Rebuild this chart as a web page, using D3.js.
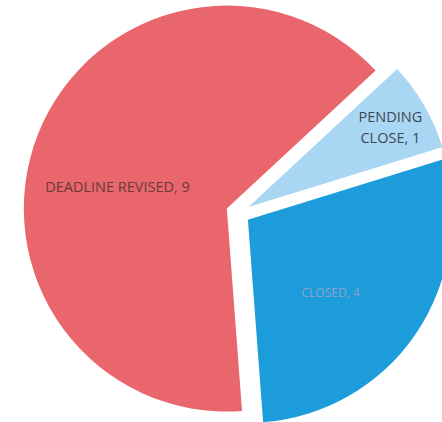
<!DOCTYPE html>
<html><head><meta charset="utf-8">
<script src="https://cdn.jsdelivr.net/npm/d3@7"></script>
<style>html,body{margin:0;padding:0;background:#fff;overflow:hidden}</style>
</head><body>
<svg id="chart" width="442" height="422"></svg>
<script>
const categories = ["DEADLINE REVISED", "PENDING CLOSE", "CLOSED"];
const values = [9, 1, 4];
const colors = ["#E9666C", "#A9D6F2", "#1C9CDB"];
const labelColors = ["#6a3a3c", "#3f4852", "#8ea3c9"];

const W = 442, H = 422;
const cx = 238, cy = 213, R = 203, explode = 12;
const startDeg = 175.7;

const svg = d3.select("#chart");
const pie = d3.pie().sort(null).value(d => d)
  .startAngle(startDeg * Math.PI / 180)
  .endAngle(startDeg * Math.PI / 180 + 2 * Math.PI);
const arcs = pie(values);
const arc = d3.arc().innerRadius(0).outerRadius(R);

const g = svg.append("g").attr("transform", `translate(${cx},${cy})`);
const slice = g.selectAll("g.slice").data(arcs).enter().append("g")
  .attr("class", "slice")
  .attr("transform", d => {
    const m = (d.startAngle + d.endAngle) / 2;
    return `translate(${Math.sin(m) * explode},${-Math.cos(m) * explode})`;
  });
slice.append("path").attr("d", arc).attr("fill", (d, i) => colors[i]);

// label layout
const labelR = [112, 164, 111];
const nudge = [[-5, 19], [0, 3], [-9, 10]];
const fontSizes = [14.5, 14.5, 12];
slice.each(function (d, i) {
  const m = (d.startAngle + d.endAngle) / 2;
  const x = Math.sin(m) * labelR[i] + nudge[i][0];
  const y = -Math.cos(m) * labelR[i] + nudge[i][1];
  const t = d3.select(this).append("text")
    .attr("text-anchor", "middle")
    .attr("font-family", "'Open Sans', sans-serif")
    .attr("font-size", fontSizes[i])
    .attr("fill", labelColors[i]);
  const lines = i === 1 ? ["PENDING", "CLOSE, " + values[i]] : [categories[i] + ", " + values[i]];
  const lh = 21;
  lines.forEach((ln, k) => {
    t.append("tspan").attr("x", x)
      .attr("y", y + (k - (lines.length - 1) / 2) * lh + 5)
      .text(ln);
  });
});
</script>
</body></html>
